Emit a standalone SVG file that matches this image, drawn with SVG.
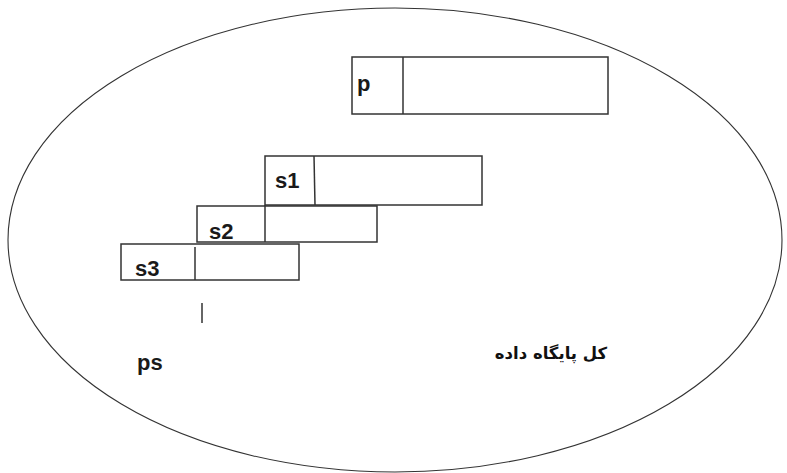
<svg xmlns="http://www.w3.org/2000/svg" width="787" height="473" viewBox="0 0 787 473">
<style>
.box{fill:#fff;stroke:#333;stroke-width:1.5}
.div{stroke:#333;stroke-width:1.5;fill:none}
.lbl{font-family:"Liberation Sans",Arial,sans-serif;font-weight:bold;font-size:22px;fill:#1a1a1a}
.fa{font-family:"DejaVu Sans","Noto Sans",sans-serif;font-weight:bold;font-size:16.5px;fill:#111}
</style>
<rect width="787" height="473" fill="#fff"/>
<g id="db">
<ellipse cx="395" cy="240" rx="387" ry="232" fill="none" stroke="#333" stroke-width="1.1"/>
<text class="fa" x="551" y="359" text-anchor="middle" direction="rtl">کل پایگاه داده</text>
</g>
<g id="p">
<rect class="box" x="352" y="57" width="256" height="57"/>
<line class="div" x1="403" y1="57" x2="403" y2="114"/>
<text class="lbl" x="357" y="91">p</text>
</g>
<g id="s1">
<rect class="box" x="265" y="156" width="217" height="49"/>
<line class="div" x1="314" y1="156" x2="315" y2="205"/>
<text class="lbl" x="275" y="188">s1</text>
</g>
<g id="s2">
<rect class="box" x="197" y="206" width="180" height="36"/>
<line class="div" x1="265" y1="205" x2="265" y2="242"/>
<text class="lbl" x="209" y="239">s2</text>
</g>
<g id="s3">
<rect class="box" x="121" y="244" width="178" height="36"/>
<line class="div" x1="195" y1="247" x2="195" y2="280"/>
<text class="lbl" x="135" y="276">s3</text>
</g>
<g id="ps">
<line class="div" x1="202" y1="303" x2="202" y2="323"/>
<text class="lbl" x="137" y="370">ps</text>
</g>
</svg>
